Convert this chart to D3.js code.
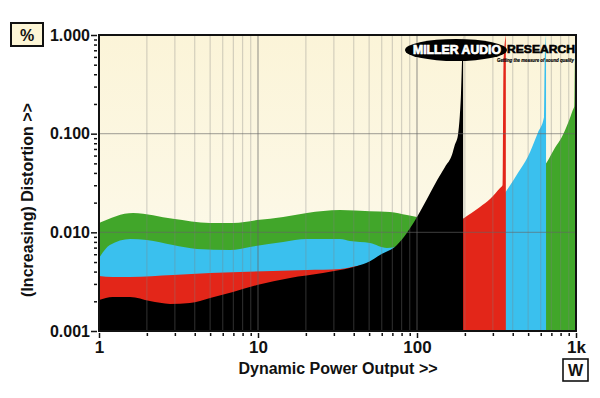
<!DOCTYPE html>
<html><head><meta charset="utf-8">
<script src="https://cdn.jsdelivr.net/npm/d3@7"></script>
<style>body{margin:0;background:#fff}svg{display:block}</style>
</head><body>
<script>
// ---- data ----
const xTickLabels = ["1","10","100","1k"];
const xTickValues = [1,10,100,1000];
const yTickLabels = ["1.000","0.100","0.010","0.001"];
const yTickValues = [1,0.1,0.01,0.001];

const greenPower = [1,1.64,2.92,4.99,6.96,9.86,14.4,20.3,32.8,50.6,67.6,86.5,100,130,160,195,250,350,450,550,657,736,815,891,955,975,985,1000];
const greenDist  = [0.0124,0.0157,0.0137,0.0124,0.0124,0.0133,0.0143,0.0157,0.0168,0.0164,0.0161,0.0150,0.0143,0.0138,0.0136,0.0137,0.0150,0.0200,0.0270,0.0360,0.0516,0.0716,0.0925,0.128,0.174,0.19,0.6,1.0];

const bluePower = [1,1.17,1.57,2.0,2.92,4.13,6.67,8.9,14.4,20.3,32.8,37.9,50.6,64.7,80,100,150,195,250,320,368,431,497,574,630,635,648];
const blueDist  = [0.00549,0.00744,0.00857,0.00836,0.00744,0.00678,0.00662,0.00711,0.00798,0.00857,0.00857,0.00817,0.00779,0.00694,0.0073,0.0080,0.0100,0.0120,0.0142,0.0200,0.0269,0.040,0.058,0.101,0.148,0.5,1.0];

const redPower = [1,1.22,1.57,2.92,5,7.7,12.4,20.3,32.8,42,60,80,100,130,160,195,249,288,333,345,350,362];
const redDist  = [0.00361,0.00353,0.00353,0.0037,0.00387,0.00396,0.00405,0.00415,0.00425,0.00456,0.0050,0.0058,0.0068,0.0085,0.0105,0.0137,0.0181,0.0218,0.0281,0.030,0.5,1.0];

const blackPower = [1,1.22,1.57,2.09,2.8,3.73,5,6.96,9.86,15.9,25.6,32.8,42,50.6,58.5,74.8,86.5,100,121,134,150,166,173,181,186,189,192,195];
const blackDist  = [0.00206,0.00221,0.00221,0.00201,0.00188,0.00192,0.00216,0.00248,0.00292,0.00345,0.00387,0.00415,0.00456,0.0051,0.00589,0.00744,0.0099,0.0143,0.0250,0.034,0.046,0.061,0.077,0.097,0.155,0.25,0.55,1.0];

const seriesNames = ["green","blue","red","black"];
const seriesColors = ["#41a62a","#3ac0ee","#e32619","#000000"];

// ---- layout ----
const W = 600, H = 398;
const L = 99, R = 576, T = 35, B = 331;

const svg = d3.select("body").append("svg").attr("width",W).attr("height",H)
  .style("font-family","'Liberation Sans', Arial, sans-serif");

const x = d3.scaleLog().domain([1,1000]).range([L,R]);
const y = d3.scaleLog().domain([0.001,1]).range([B,T]).clamp(true);

const defs = svg.append("defs");
const grad = defs.append("linearGradient").attr("id","bg").attr("x1",0).attr("y1",0).attr("x2",0).attr("y2",1);
grad.append("stop").attr("offset","0%").attr("stop-color","#fbf4d8");
grad.append("stop").attr("offset","100%").attr("stop-color","#fdfbef");
defs.append("clipPath").attr("id","clip").append("rect")
  .attr("x",L).attr("y",T).attr("width",R-L).attr("height",B-T);

svg.append("rect").attr("x",L).attr("y",T).attr("width",R-L).attr("height",B-T).attr("fill","url(#bg)");

const series = [
  greenPower.map((p,i)=>[p,greenDist[i]]),
  bluePower.map((p,i)=>[p,blueDist[i]]),
  redPower.map((p,i)=>[p,redDist[i]]),
  blackPower.map((p,i)=>[p,blackDist[i]])
];

const area = d3.area().x(d=>x(d[0])).y0(B).y1(d=>y(d[1])).curve(d3.curveMonotoneX);
const gA = svg.append("g").attr("clip-path","url(#clip)");
series.forEach((s,i)=>{
  gA.append("path").datum(s).attr("d",area).attr("fill",seriesColors[i]).attr("class",seriesNames[i]);
});

// gridlines
const minorX = [];
[1,10,100].forEach(d=>{for(let k=2;k<=9;k++) minorX.push(k*d);});
const gG = svg.append("g");
gG.selectAll("line.mx").data(minorX).join("line")
  .attr("x1",d=>x(d)).attr("x2",d=>x(d)).attr("y1",T).attr("y2",B)
  .attr("stroke","rgba(128,128,128,0.32)").attr("stroke-width",1.2);
gG.selectAll("line.Mx").data([10,100]).join("line")
  .attr("x1",d=>x(d)).attr("x2",d=>x(d)).attr("y1",T).attr("y2",B)
  .attr("stroke","rgba(100,100,100,0.55)").attr("stroke-width",1.3);
gG.selectAll("line.My").data([0.1,0.01]).join("line")
  .attr("x1",L).attr("x2",R).attr("y1",d=>y(d)).attr("y2",d=>y(d))
  .attr("stroke","rgba(100,100,100,0.5)").attr("stroke-width",1.2);

// frame
svg.append("rect").attr("x",L).attr("y",T).attr("width",R-L).attr("height",B-T)
  .attr("fill","none").attr("stroke","#111").attr("stroke-width",2);

// y axis ticks
const minorY = [];
[0.001,0.01,0.1].forEach(d=>{for(let k=2;k<=9;k++) minorY.push(k*d);});
const yMinor = svg.append("g").attr("transform",`translate(${L-2},0)`)
  .call(d3.axisLeft(y).tickValues(minorY).tickSize(3).tickFormat(""));
const yMajor = svg.append("g").attr("transform",`translate(${L-2},0)`)
  .call(d3.axisLeft(y).tickValues(yTickValues).tickSize(6).tickPadding(1)
    .tickFormat((d,i)=>yTickLabels[i]));
[yMinor,yMajor].forEach(g=>{g.select(".domain").remove(); g.selectAll("line").attr("stroke","#111").attr("stroke-width",1.5);});
yMajor.selectAll("text").attr("font-size",16).attr("font-weight","bold").attr("fill","#111")
  .attr("font-family","'Liberation Sans', Arial, sans-serif");

// x axis ticks
const xMinor = svg.append("g").attr("transform",`translate(0,${B+2})`)
  .call(d3.axisBottom(x).tickValues(minorX).tickSize(3).tickFormat(""));
const xMajor = svg.append("g").attr("transform",`translate(0,${B+2})`)
  .call(d3.axisBottom(x).tickValues(xTickValues).tickSize(5).tickPadding(3)
    .tickFormat((d,i)=>xTickLabels[i]));
[xMinor,xMajor].forEach(g=>{g.select(".domain").remove(); g.selectAll("line").attr("stroke","#111").attr("stroke-width",1.5);});
xMajor.selectAll("text").attr("font-size",17).attr("font-weight","bold").attr("fill","#111")
  .attr("font-family","'Liberation Sans', Arial, sans-serif");

// axis titles
svg.append("text").attr("x",338).attr("y",374).attr("text-anchor","middle")
  .attr("font-size",16).attr("font-weight","bold").attr("fill","#111").text("Dynamic Power Output >>");
svg.append("text").attr("transform","translate(33,200) rotate(-90)").attr("text-anchor","middle")
  .attr("font-size",16).attr("font-weight","bold").attr("fill","#111").text("(Increasing) Distortion >>");

// unit boxes
svg.append("rect").attr("x",11).attr("y",23).attr("width",32).attr("height",23)
  .attr("fill","#fdf6d6").attr("stroke","#111").attr("stroke-width",2);
svg.append("text").attr("x",27).attr("y",40.5).attr("text-anchor","middle")
  .attr("font-size",16).attr("font-weight","bold").attr("fill","#111").text("%");
svg.append("rect").attr("x",563).attr("y",359).attr("width",25).attr("height",22)
  .attr("fill","#fff").attr("stroke","#111").attr("stroke-width",1.6);
svg.append("text").attr("x",575.5).attr("y",376).attr("text-anchor","middle")
  .attr("font-size",16).attr("font-weight","bold").attr("fill","#111").text("W");

// logo
const lg = svg.append("g");
lg.append("ellipse").attr("cx",456).attr("cy",50).attr("rx",51).attr("ry",11).attr("fill","#000");
lg.append("text").attr("x",413).attr("y",54).attr("textLength",88).attr("lengthAdjust","spacingAndGlyphs")
  .attr("font-size",12).attr("font-weight","bold").attr("fill","#fff")
  .attr("stroke","#fff").attr("stroke-width",0.7).text("MILLER AUDIO");
lg.append("text").attr("x",507).attr("y",53).attr("textLength",68).attr("lengthAdjust","spacingAndGlyphs")
  .attr("font-size",11).attr("font-weight","bold").attr("fill","#000")
  .attr("stroke","#000").attr("stroke-width",0.6).text("RESEARCH");
lg.append("text").attr("x",497).attr("y",61.5).attr("textLength",77).attr("lengthAdjust","spacingAndGlyphs")
  .attr("font-size",5.5).attr("font-weight","bold").attr("font-style","italic").attr("fill","#000")
  .attr("stroke","#000").attr("stroke-width",0.2)
  .text("Getting the measure of sound quality");
</script>
</body></html>
